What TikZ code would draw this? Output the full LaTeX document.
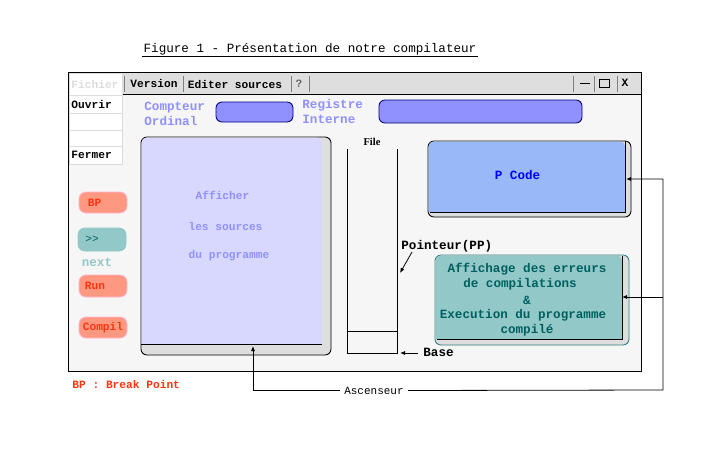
\documentclass[tikz,border=0pt]{standalone}
\usepackage{fontspec}
\setmainfont{Liberation Mono}
\newfontfamily\filefont{Liberation Serif}
\usetikzlibrary{arrows.meta}
\definecolor{barfill}{HTML}{DEDEDE}
\definecolor{winfill}{HTML}{F6F6F6}
\definecolor{menuline}{HTML}{DCDCDC}
\definecolor{regfill}{HTML}{9090FF}
\definecolor{regline}{HTML}{000080}
\definecolor{srcfill}{HTML}{D8D8FF}
\definecolor{pcodefill}{HTML}{98B8F8}
\definecolor{tealfill}{HTML}{93C8C8}
\definecolor{tealdark}{HTML}{006060}
\definecolor{btnfill}{HTML}{FF9880}
\definecolor{btnline}{HTML}{FFB4D0}
\definecolor{btntext}{HTML}{FF3410}
\definecolor{sep}{HTML}{808080}

\begin{document}
\begin{tikzpicture}[x=1pt, y=-1pt, line width=.85pt]
\tikzset{small/.style = {font=\fontsize{11.2}{13}\selectfont\bfseries, inner sep=0pt}}
\tikzset{large/.style = {font=\fontsize{12.6}{14}\selectfont\bfseries, inner sep=0pt}}
\tikzset{thin text/.style = {font=\fontsize{12.6}{14}\selectfont, inner sep=0pt}}
\tikzset{reg/.style = {draw=regline, fill=regfill, rounded corners=6pt, inner sep=0pt}}
\tikzset{button/.style = {small, draw=btnline, fill=btnfill, text=btntext, rounded corners=7pt, minimum width=48pt, minimum height=21pt}}
\tikzset{menuitem/.style = {small, draw=menuline, fill=white, minimum width=53pt, anchor=west, text width=49pt}}
\tikzset{panel/.style = {draw, fill=barfill, rounded corners=6pt, inner sep=0pt}}
\tikzset{edge/.style = {-{Latex[length=5pt,width=4pt]}, line width=.8pt}}

\useasboundingbox (0,0) rectangle (726,474);
\fill[white] (0,0) rectangle (726,474);

% title
\node[thin text] (title) at (310,49.5) {Figure 1 - Présentation de notre compilateur};
\draw (142,56) -- (478,56);

% window
\node[draw, fill=winfill, minimum width=573pt, minimum height=299pt, inner sep=0pt] (window) at (354.5,221.5) {};
\node[draw, fill=barfill, minimum width=573pt, minimum height=22pt, inner sep=0pt] (bar) at (354.5,83) {};

% menu
\node[menuitem, minimum height=22pt, text=menuline] (fichier) at (69,84) {Fichier};
\node[menuitem, minimum height=18pt] (ouvrir) at (69,104) {Ouvrir};
\node[menuitem, minimum height=17pt] (blanka) at (69,121.5) {};
\node[menuitem, minimum height=16pt] (blankb) at (69,138) {};
\node[menuitem, minimum height=18pt] (fermer) at (69,155) {Fermer};

\node[small] (version) at (154,83) {Version};
\node[small] (editer) at (235,84) {Editer sources};
\node[small, text=sep!80!black] (help) at (299,84) {?};
\foreach \x in {124, 183, 291, 309, 573, 594, 617}
  {\draw[sep] (\x,76) -- (\x,92);}
\draw (580,83) -- (590,83);
\draw (599,79) rectangle (609,87);
\node[small] (close) at (625,83) {X};

% registers
\node[large, text=regfill, align=left, anchor=north west, font=\fontsize{12.6}{15}\selectfont\bfseries] (compteur) at (144,101.5) {Compteur\\Ordinal};
\node[reg, minimum width=77pt, minimum height=20pt] (ordinal) at (254.5,112) {};
\node[large, text=regfill, align=left, anchor=north west, font=\fontsize{12.6}{15}\selectfont\bfseries] (registre) at (302,99) {Registre\\Interne};
\node[reg, minimum width=203pt, minimum height=23pt] (interne) at (480.5,111.5) {};

% sources
\node[panel, minimum width=190pt, minimum height=218pt] (sources) at (236,246) {};
\fill[srcfill, rounded corners=5pt] (141.5,344) -- (141.5,137.5) -- (322,137.5) [sharp corners] -- (322,344) -- cycle;
\draw (141,344) -- (322,344);
\node[small, text=regfill] (afficher) at (222.5,195) {Afficher};
\node[small, text=regfill] (les) at (225.5,226) {les sources};
\node[small, text=regfill] (du) at (229,256) {du programme};

% stack
\draw (347,149) -- (347,353) -- (397,353) -- (397,149);
\draw (348,331) -- (397,331);
\node[inner sep=0pt, font=\fontsize{10.5}{12}\selectfont\bfseries\filefont] (file) at (372,142) {File};
\node[large, anchor=west] (pointeur) at (401,246) {Pointeur(PP)};
\node[large, anchor=west] (base) at (423,352) {Base};
\coordinate (pp) at (400,273);
\coordinate (bottom) at (400,353);
\draw[edge] (412,252) -- (pp);
\draw[edge] (base.west) ++(-5,1) -- (bottom);

% P code
\node[panel, minimum width=203pt, minimum height=76pt] (pcode) at (529.5,179) {};
\fill[pcodefill, rounded corners=5pt] (428.5,212) -- (428.5,141.5) -- (625,141.5) [sharp corners] -- (625,212) -- cycle;
\draw (625,141) -- (625,212) -- (430,212);
\node[large, text=blue] (pcodetext) at (517.5,175) {P Code};

% erreurs
\node[panel, draw=tealdark!70!tealfill, minimum width=194pt, minimum height=90pt] (erreurs) at (532,300) {};
\fill[tealfill, rounded corners=5pt] (435.5,339) -- (435.5,255.5) -- (622,255.5) [sharp corners] -- (622,339) -- cycle;
\draw (622,256) -- (622,339) -- (437,339);
\node[large, text=tealdark] (ligne1) at (527,269) {Affichage des erreurs};
\node[large, text=tealdark] (ligne2) at (520,284) {de compilations};
\node[large, text=tealdark] (ligne3) at (527,300) {\&};
\node[large, text=tealdark] (ligne4) at (523,315) {Execution du programme};
\node[large, text=tealdark] (ligne5) at (527,330) {compilé};

% buttons
\node[button] (bp) at (103,202.5) {\hspace*{-17pt}BP};
\node[button, draw=tealfill, fill=tealfill, text=tealdark, minimum height=23pt, font=\fontsize{11.2}{13}\selectfont] (next) at (102,239.5) {\hspace*{-20pt}{>}{>}};
\node[large, text=tealfill] (nexttext) at (97,262) {next};
\node[button, minimum height=22pt] (run) at (103,286) {\hspace*{-16pt}Run};
\node[button] (compil) at (103,327.5) {Compil};
\node[small, text=btntext, anchor=west] (legende) at (72,384) {BP : Break Point};

% ascenseur
\node[inner sep=0pt, font=\fontsize{11}{13}\selectfont] (ascenseur) at (374,390.5) {Ascenseur};
\coordinate (scroll) at (253,346);
\coordinate (pcodeend) at (626,179);
\coordinate (erreursend) at (622,297);
\coordinate (corner) at (663,390);
\draw[edge] (ascenseur.west) ++(-4,0) -| (scroll);
\draw[edge] (ascenseur.east) ++(4,0) -- (corner) |- (pcodeend);
\draw[edge] (corner |- erreursend) -- (erreursend);

\end{tikzpicture}
\end{document}
